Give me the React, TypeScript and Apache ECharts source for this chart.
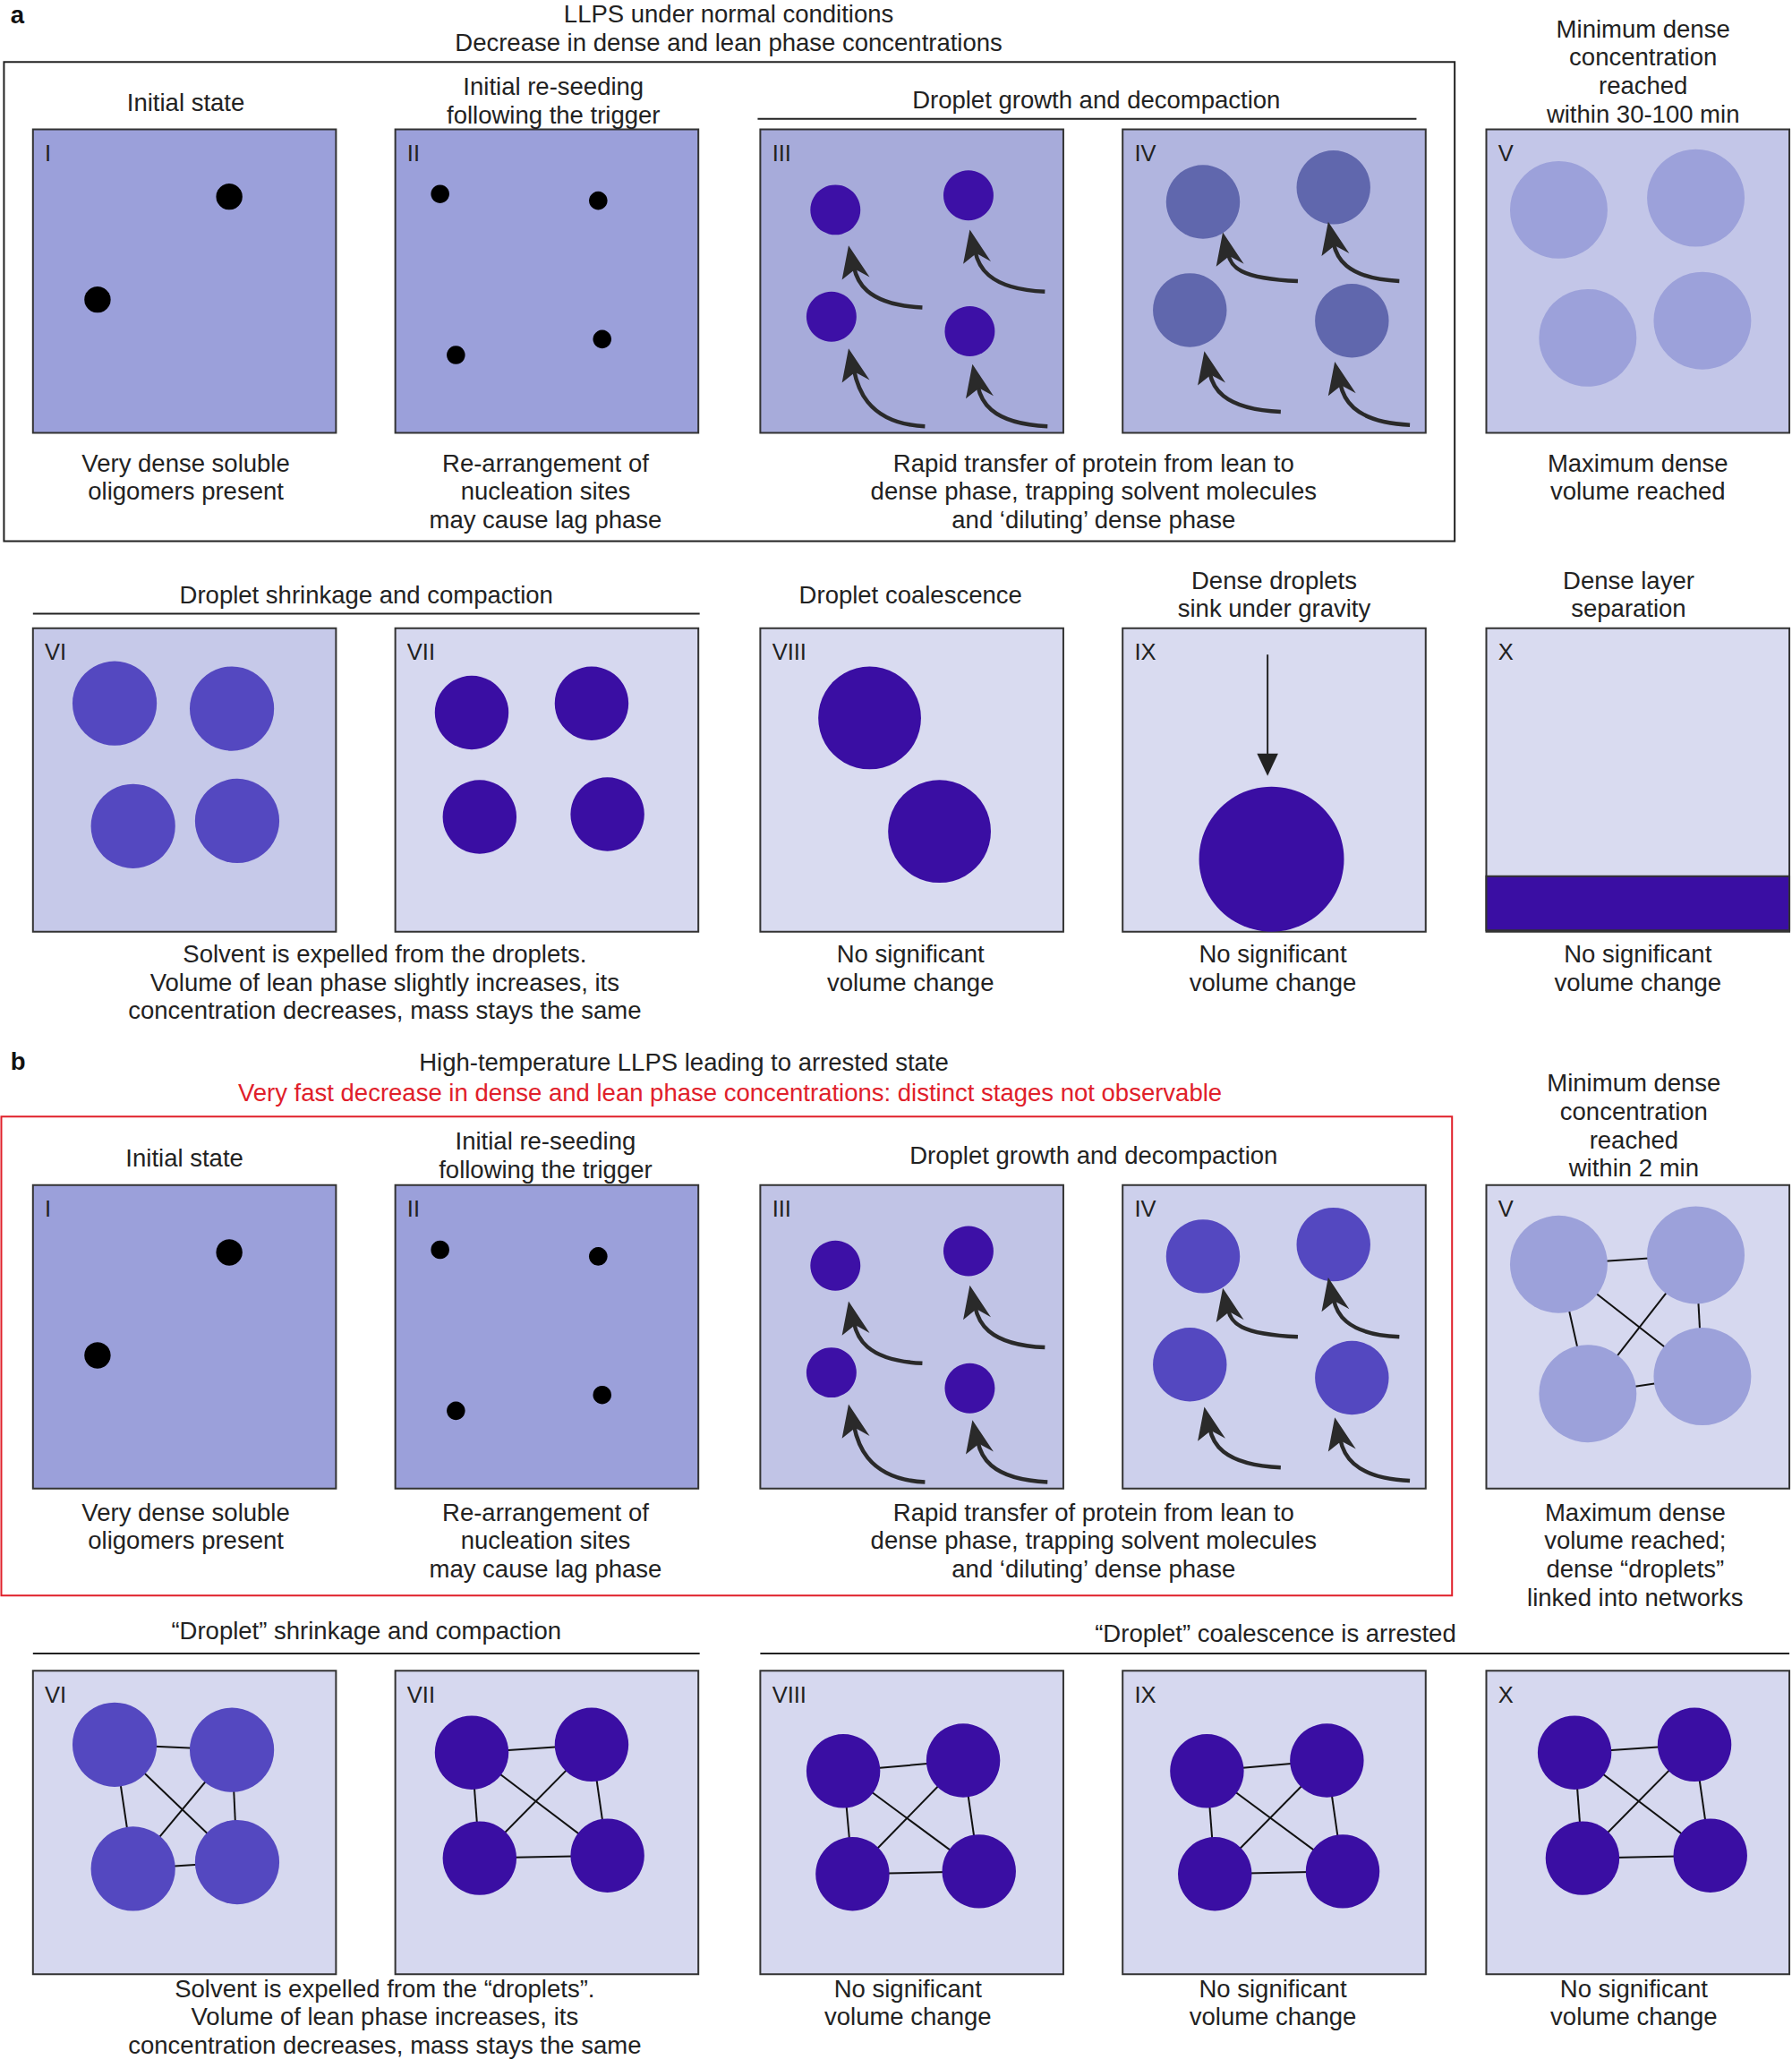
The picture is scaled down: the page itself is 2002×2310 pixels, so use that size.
import React, { useEffect, useRef } from "react";
import * as echarts from "echarts";

const W = 2002, H = 2310, RW = 1360, RH = 1567;
const SX = W / RW, SY = H / RH;

const colX = [25, 300, 577, 852, 1128];
const rowY = [98, 476, 898, 1266];
const PW = 230;
const panelFill = [
  ["#9ba0da", "#9ba0da", "#a7abda", "#b1b5df", "#c3c6e8"],
  ["#c6c9e9", "#d6d8ef", "#d9dbf0", "#d9dbf0", "#d9dbf0"],
  ["#9ba0da", "#9ba0da", "#c1c4e6", "#cdd0ec", "#d6d8ef"],
  ["#d6d8ef", "#d6d8ef", "#d6d8ef", "#d6d8ef", "#d6d8ef"],
];
const numerals = ["I", "II", "III", "IV", "V", "VI", "VII", "VIII", "IX", "X"];

const groups: { c: number[][]; color: string; net?: boolean }[] = [
  { c: [[174, 149, 10], [74, 227, 10]], color: "#000" },
  { c: [[334, 147, 7], [454, 152, 7], [346, 269, 7], [457, 257, 7]], color: "#000" },
  { c: [[634, 159, 19], [735, 148, 19], [631, 240, 19], [736, 251, 19]], color: "#3d10a6" },
  { c: [[913, 153, 28], [1012, 142, 28], [903, 235, 28], [1026, 243, 28]], color: "#6067ad" },
  { c: [[1183, 159, 37], [1287, 150, 37], [1205, 256, 37], [1292, 243, 37]], color: "#9ca1da" },
  { c: [[87, 533, 32], [176, 537, 32], [101, 626, 32], [180, 622, 32]], color: "#5448c0" },
  { c: [[358, 540, 28], [449, 533, 28], [364, 619, 28], [461, 617, 28]], color: "#3a0ea3" },
  { c: [[660, 544, 39], [713, 630, 39]], color: "#3a0ea3" },
  { c: [[965, 651, 55]], color: "#3a0ea3" },
  { c: [[174, 949, 10], [74, 1027, 10]], color: "#000" },
  { c: [[334, 947, 7], [454, 952, 7], [346, 1069, 7], [457, 1057, 7]], color: "#000" },
  { c: [[634, 959, 19], [735, 948, 19], [631, 1040, 19], [736, 1052, 19]], color: "#3d10a6" },
  { c: [[913, 952, 28], [1012, 943, 28], [903, 1034, 28], [1026, 1044, 28]], color: "#5448c0" },
  { c: [[1183, 958, 37], [1287, 951, 37], [1205, 1056, 37], [1292, 1043, 37]], color: "#9ca1da", net: true },
  { c: [[87, 1322, 32], [176, 1326, 32], [101, 1416, 32], [180, 1411, 32]], color: "#5448c0", net: true },
  { c: [[358, 1328, 28], [449, 1322, 28], [364, 1408, 28], [461, 1406, 28]], color: "#3a0ea3", net: true },
  { c: [[640, 1342, 28], [731, 1334, 28], [647, 1420, 28], [743, 1418, 28]], color: "#3a0ea3", net: true },
  { c: [[916, 1342, 28], [1007, 1334, 28], [922, 1420, 28], [1019, 1418, 28]], color: "#3a0ea3", net: true },
  { c: [[1195, 1328, 28], [1286, 1322, 28], [1201, 1408, 28], [1298, 1406, 28]], color: "#3a0ea3", net: true },
];
const edges = [[0, 1], [0, 2], [1, 3], [2, 3], [0, 3], [1, 2]];

const arrowsRow = [
  [648, 190, 700, 233], [740, 178, 793, 221], [648, 268, 702, 323], [742, 280, 795, 323],
  [932, 180, 985, 213], [1012, 172, 1062, 213], [918, 270, 972, 312], [1017, 278, 1070, 322],
];

type T = [string, number, number, string?];
const texts: T[] = [
  ["LLPS under normal conditions\nDecrease in dense and lean phase concentrations", 553, 0],
  ["Initial state", 141, 67],
  ["Initial re-seeding\nfollowing the trigger", 420, 55],
  ["Droplet growth and decompaction", 832, 65],
  ["Minimum dense\nconcentration\nreached\nwithin 30-100 min", 1247, 11],
  ["Very dense soluble\noligomers present", 141, 340],
  ["Re-arrangement of\nnucleation sites\nmay cause lag phase", 414, 340],
  ["Rapid transfer of protein from lean to\ndense phase, trapping solvent molecules\nand \u2018diluting\u2019 dense phase", 830, 340],
  ["Maximum dense\nvolume reached", 1243, 340],
  ["Droplet shrinkage and compaction", 278, 440],
  ["Droplet coalescence", 691, 440],
  ["Dense droplets\nsink under gravity", 967, 429],
  ["Dense layer\nseparation", 1236, 429],
  ["Solvent is expelled from the droplets.\nVolume of lean phase slightly increases, its\nconcentration decreases, mass stays the same", 292, 712],
  ["No significant\nvolume change", 691, 712],
  ["No significant\nvolume change", 966, 712],
  ["No significant\nvolume change", 1243, 712],
  ["High-temperature LLPS leading to arrested state", 519, 794],
  ["Very fast decrease in dense and lean phase concentrations: distinct stages not observable", 554, 817, "#e0202a"],
  ["Initial state", 140, 867],
  ["Initial re-seeding\nfollowing the trigger", 414, 854],
  ["Droplet growth and decompaction", 830, 865],
  ["Minimum dense\nconcentration\nreached\nwithin 2 min", 1240, 810],
  ["Very dense soluble\noligomers present", 141, 1135],
  ["Re-arrangement of\nnucleation sites\nmay cause lag phase", 414, 1135],
  ["Rapid transfer of protein from lean to\ndense phase, trapping solvent molecules\nand \u2018diluting\u2019 dense phase", 830, 1135],
  ["Maximum dense\nvolume reached;\ndense \u201cdroplets\u201d\nlinked into networks", 1241, 1135],
  ["\u201cDroplet\u201d shrinkage and compaction", 278, 1225],
  ["\u201cDroplet\u201d coalescence is arrested", 968, 1227],
  ["Solvent is expelled from the \u201cdroplets\u201d.\nVolume of lean phase increases, its\nconcentration decreases, mass stays the same", 292, 1496],
  ["No significant\nvolume change", 689, 1496],
  ["No significant\nvolume change", 966, 1496],
  ["No significant\nvolume change", 1240, 1496],
];
const rules = [[575, 1075, 90], [25, 531, 465], [25, 531, 1253], [577, 1358, 1253]];

const FONT = "'Liberation Sans', Arial, sans-serif";
const FS = 27.5;

export default function App() {
  const ref = useRef<HTMLDivElement>(null);
  useEffect(() => {
    document.body.style.margin = "0";
    const chart = echarts.init(ref.current!, null, { renderer: "svg" });
    const X = (v: number) => v * SX, Y = (v: number) => v * SY;
    const g: any[] = [];
    g.push({ type: "rect", shape: { x: X(3), y: Y(47), width: X(1101), height: Y(363) }, style: { fill: "none", stroke: "#222", lineWidth: 2 }, z: 1 });
    g.push({ type: "rect", shape: { x: X(1), y: Y(846), width: X(1101), height: Y(363) }, style: { fill: "none", stroke: "#e0202a", lineWidth: 2 }, z: 1 });
    rowY.forEach((ry, ri) => colX.forEach((cx, ci) => {
      g.push({ type: "rect", shape: { x: X(cx), y: Y(ry), width: X(PW), height: Y(PW) }, style: { fill: panelFill[ri][ci], stroke: "#333", lineWidth: 2 }, z: 0 });
      const n = numerals[(ri % 2) * 5 + ci];
      g.push({ type: "text", x: X(cx + 9), y: Y(ry + 9), style: { text: n, font: `${FS - 2}px ${FONT}`, fill: "#222" }, z: 5 });
    }));
    g.push({ type: "rect", shape: { x: X(1128), y: Y(664), width: X(230), height: Y(41) }, style: { fill: "#3a0ea3", stroke: "#333", lineWidth: 2 }, z: 3 });
    texts.forEach(([t, x, y, c]) => g.push({ type: "text", x: X(x), y: Y(y), style: { text: t, font: `${FS}px ${FONT}`, fill: c || "#222", align: "center", verticalAlign: "top", lineHeight: Y(21.5) }, z: 5 }));
    g.push({ type: "text", x: X(8), y: Y(2), style: { text: "a", font: `bold ${FS}px ${FONT}`, fill: "#111", verticalAlign: "top" } });
    g.push({ type: "text", x: X(8), y: Y(795), style: { text: "b", font: `bold ${FS}px ${FONT}`, fill: "#111", verticalAlign: "top" } });
    rules.forEach(([a, b, y]) => g.push({ type: "line", shape: { x1: X(a), y1: Y(y), x2: X(b), y2: Y(y) }, style: { stroke: "#222", lineWidth: 2 } }));
    [0, 800].forEach((off) => arrowsRow.forEach(([hx, hy, tx, ty]) => {
      const hyo = hy + off, tyo = ty + off;
      g.push({ type: "bezierCurve", shape: { x1: X(tx), y1: Y(tyo), cpx1: X(hx + 8), cpy1: Y(tyo - 2), cpx2: X(hx + 2), cpy2: Y(hyo + 22), x2: X(hx), y2: Y(hyo + 12) }, style: { stroke: "#2a2a2a", lineWidth: 4.5, fill: "none" }, z: 4 });
      g.push({ type: "polygon", shape: { points: [[X(hx - 4), Y(hyo - 4)], [X(hx - 9), Y(hyo + 22)], [X(hx + 1), Y(hyo + 14)], [X(hx + 12), Y(hyo + 20)]] }, style: { fill: "#2a2a2a" }, z: 4 });
    }));
    g.push({ type: "line", shape: { x1: X(962), y1: Y(496), x2: X(962), y2: Y(575) }, style: { stroke: "#222", lineWidth: 2 } });
    g.push({ type: "polygon", shape: { points: [[X(954), Y(571)], [X(970), Y(571)], [X(962), Y(588)]] }, style: { fill: "#222" } });

    const series: any[] = [];
    groups.forEach((gr) => {
      if (gr.net) {
        series.push({ type: "lines", coordinateSystem: "cartesian2d", z: 2, silent: true,
          lineStyle: { color: "#111", width: 2, opacity: 1 },
          data: edges.map(([a, b]) => ({ coords: [[gr.c[a][0], gr.c[a][1]], [gr.c[b][0], gr.c[b][1]]] })) });
      }
      series.push({ type: "scatter", z: 3, silent: true, symbol: "circle",
        data: gr.c.map((p) => [p[0], p[1], p[2]]),
        symbolSize: (d: number[]) => 2 * d[2] * SX,
        itemStyle: { color: gr.color, opacity: 1 } });
    });

    chart.setOption({
      animation: false,
      backgroundColor: "#fff",
      grid: { left: 0, right: 0, top: 0, bottom: 0 },
      xAxis: { type: "value", min: 0, max: RW, show: false },
      yAxis: { type: "value", min: 0, max: RH, inverse: true, show: false },
      series,
      graphic: g,
    });
    return () => chart.dispose();
  }, []);
  return <div ref={ref} style={{ width: W, height: H }} />;
}
